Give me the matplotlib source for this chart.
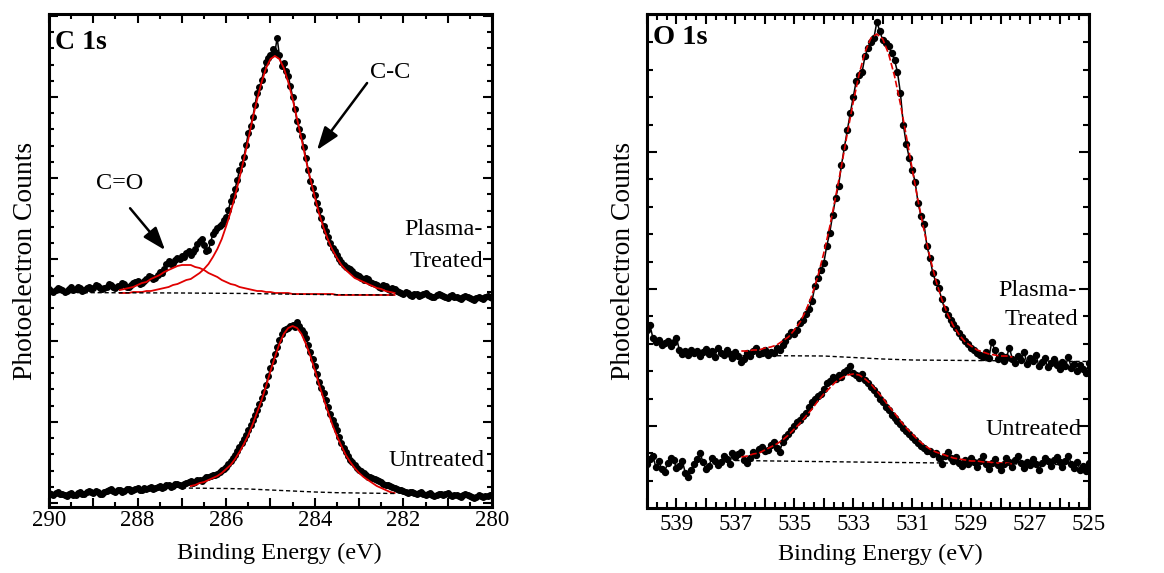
import numpy as np
import matplotlib
matplotlib.use("Agg")
import matplotlib.pyplot as plt
from matplotlib.ticker import MultipleLocator, FuncFormatter

plt.rcParams['font.family'] = ['Liberation Serif', 'DejaVu Serif']

# ---------------- C 1s spectra (binding energy grid 290 -> 280 eV, 0.05 eV) ----------------
c1s_be_start, c1s_be_stop, c1s_n = 290.0, 280.0, 201
c1s_plasma = [
    218, 216, 215, 217, 219, 218, 217, 215, 216, 218, 220, 217, 218, 220, 219, 216, 217, 219, 220, 218,
    219, 222, 221, 219, 218, 219, 220, 223, 222, 220, 219, 221, 221, 224, 223, 220, 220, 222, 224, 225,
    226, 223, 224, 226, 228, 231, 230, 228, 229, 232, 235, 234, 238, 243, 246, 243, 244, 247, 249, 248,
    251, 250, 254, 256, 252, 255, 258, 263, 266, 268, 262, 256, 257, 265, 273, 276, 279, 281, 283, 287,
    290, 297, 306, 311, 318, 327, 337, 343, 350, 362, 374, 381, 390, 402, 414, 420, 427, 437, 445, 449,
    452, 458, 455, 469, 452, 441, 444, 436, 431, 421, 410, 398, 386, 378, 371, 360, 349, 337, 326, 319,
    312, 304, 297, 289, 281, 276, 270, 264, 259, 256, 252, 248, 245, 242, 240, 239, 238, 236, 233, 232,
    231, 229, 227, 229, 228, 225, 224, 223, 222, 220, 219, 222, 221, 218, 217, 219, 218, 216, 215, 214,
    213, 215, 214, 212, 211, 213, 213, 211, 212, 213, 214, 212, 211, 210, 210, 212, 213, 212, 211, 210,
    209, 211, 212, 210, 210, 209, 208, 210, 211, 210, 209, 208, 207, 209, 210, 209, 208, 210, 211, 210,
    209]
c1s_untreated = [
    14, 13, 12, 14, 15, 13, 13, 12, 11, 13, 14, 12, 12, 14, 15, 13, 13, 15, 16, 15,
    14, 16, 15, 13, 13, 15, 16, 17, 18, 16, 15, 17, 17, 15, 16, 18, 18, 16, 17, 18,
    19, 17, 17, 19, 18, 19, 20, 18, 19, 20, 21, 19, 20, 22, 22, 20, 21, 23, 23, 22,
    21, 23, 24, 25, 26, 24, 25, 27, 27, 26, 28, 30, 30, 31, 32, 32, 33, 35, 37, 38,
    40, 43, 46, 49, 52, 56, 60, 64, 68, 72, 77, 82, 87, 92, 97, 103, 109, 115, 122, 131,
    139, 146, 153, 160, 167, 173, 177, 178, 179, 181, 182, 180, 185, 181, 177, 174, 169, 162, 155, 148,
    141, 133, 125, 119, 114, 107, 100, 93, 87, 82, 77, 70, 64, 59, 55, 51, 47, 45, 42, 39,
    37, 36, 34, 32, 30, 30, 29, 28, 27, 26, 25, 23, 22, 22, 21, 20, 19, 18, 17, 17,
    16, 15, 14, 15, 15, 14, 13, 14, 15, 13, 12, 13, 14, 12, 11, 12, 13, 13, 12, 13,
    14, 12, 11, 12, 12, 11, 10, 12, 13, 12, 11, 10, 9, 10, 12, 11, 10, 11, 11, 12,
    12]

# fitted components, plasma-treated (288.4 -> 282.2 eV, 0.1 eV)
c1s_fit_start, c1s_fit_stop, c1s_fit_n = 288.4, 282.2, 63
c1s_cc_fit = [
    214, 214, 214, 215, 215,
    215, 216, 216, 217, 218, 219, 220, 222, 223, 225,
    227, 228, 231, 234, 238, 243, 250, 258, 268, 281,
    295, 311, 329, 348, 368, 389, 408, 425, 439, 448,
    451, 448, 439, 425, 408, 388, 368, 347, 328, 310,
    293, 279, 267, 257, 249, 242, 237, 233, 229, 227,
    225, 223, 221, 219, 218, 216, 215, 214]
c1s_co_fit = [
    217, 218, 219, 220, 222,
    224, 225, 228, 230, 232, 235, 237, 239, 241, 242,
    242, 242, 240, 239, 237, 234, 232, 230, 227, 225,
    223, 222, 220, 219, 218, 217, 216, 216, 215, 215,
    214, 214, 214, 214, 213, 213, 213, 213, 213, 213,
    213, 213, 213, 213, 212, 212, 212, 212, 212, 212,
    212, 212, 212, 212, 212, 212, 212, 212]
# fitted peak, untreated (286.8 -> 282.2 eV, 0.1 eV)
c1s_ufit_start, c1s_ufit_stop, c1s_ufit_n = 286.8, 282.2, 47
c1s_untr_fit = [
    21, 22, 24, 25, 27, 29, 31, 34, 38,
    42, 48, 55, 63, 72, 83, 95, 107, 121, 136,
    150, 163, 173, 179, 181, 179, 173, 163, 151, 137,
    122, 108, 95, 82, 71, 61, 52, 45, 39, 34,
    30, 27, 24, 21, 19, 17, 15, 14]
# backgrounds
c1s_plasma_bg_be = [290.0, 287.0, 285.5, 284.5, 283.5, 282.2]
c1s_plasma_bg = [214.5, 214.0, 213.5, 212.8, 212.3, 212.0]
c1s_untr_bg_be = [287.0, 286.0, 285.5, 285.0, 284.5, 284.0, 283.5, 283.0, 282.2]
c1s_untr_bg = [19.0, 18.5, 18.0, 17.0, 16.0, 15.0, 14.3, 14.0, 13.5]

# ---------------- O 1s spectra (540 -> 525 eV, 0.1 eV) ----------------
o1s_be_start, o1s_be_stop, o1s_n = 540.0, 525.0, 151
o1s_plasma = [
    178, 183, 170, 166, 168, 163, 165, 167, 162, 166,
    170, 158, 154, 157, 153, 158, 155, 157, 152, 156,
    159, 154, 157, 151, 160, 155, 153, 158, 154, 150,
    156, 152, 146, 149, 155, 152, 157, 160, 154, 155,
    158, 153, 156, 155, 160, 158,
    163, 167, 172, 176, 174,
    178, 185, 188, 194, 199, 207, 222, 230, 238, 245,
    262, 275, 293, 310, 322, 343, 361, 378, 395, 411,
    427, 433, 436, 452, 460, 466, 470, 486, 477, 468,
    465, 462, 455, 448, 436, 415, 383, 364, 350, 338,
    326, 305, 292, 284, 262, 250, 235, 226, 220, 209,
    199, 193, 188, 184, 180, 175, 171, 167, 164, 160,
    158, 155, 153, 151, 156,
    150, 166, 158, 149, 153, 147, 151, 160, 149, 145,
    152, 148, 156, 144, 150, 147, 153, 142, 146, 150,
    141, 145, 149, 143, 139, 146, 142, 151, 140, 144,
    137, 143, 139, 135, 145]
o1s_untreated = [
    44, 49, 52, 41, 47, 39, 36, 45, 50, 48,
    40, 42, 47, 35, 31, 38, 44, 49, 55, 46,
    39, 42, 50, 47, 43, 46, 52, 49, 44, 55,
    51, 54, 56, 48, 45, 50, 56, 53, 59, 61,
    57, 58, 63, 66, 60, 56, 66, 71, 74, 78,
    82, 86, 88, 92, 95, 101, 106, 109, 112, 114,
    119, 125, 127, 131, 129, 133, 131, 136, 138, 142,
    135, 133, 130, 134, 128, 125, 121, 118, 114, 109,
    106, 101, 98, 93, 90, 87, 84, 80, 77, 74,
    71, 68, 65, 62, 60, 57, 57, 54, 55, 50,
    44, 52, 56, 50, 47, 51, 45, 42, 48, 44,
    50, 46, 41, 47, 52, 44, 39, 45, 49, 43,
    38, 44, 50, 46, 41, 48, 52, 45, 40, 46,
    43, 49, 44, 38, 45, 50, 47, 42, 48, 51,
    46, 41, 47, 52, 44, 40, 46, 38, 42, 37,
    45]
# fits (536.8 -> 527.6 eV, 0.2 eV)
o1s_fit_start, o1s_fit_stop, o1s_fit_n = 536.8, 527.6, 47
o1s_plasma_fit = [
    157, 157, 158, 158, 160, 161, 163, 167, 171, 178,
    186, 198, 213, 232, 255, 281, 311, 342, 375, 406,
    434, 456, 470, 474, 469, 454, 432, 404, 372, 339,
    307, 278, 251, 228, 209, 194, 182, 173, 166, 162,
    158, 156, 154, 153, 152, 152, 151]
o1s_untr_fit = [
    51, 52, 54, 55, 58, 61, 64, 68, 73, 79,
    85, 92, 99, 107, 114, 120, 126, 130, 133, 134,
    133, 129, 124, 117, 110, 102, 95, 87, 80, 74,
    68, 63, 59, 56, 54, 52, 50, 49, 48, 47,
    47, 46, 46, 45, 45, 45, 44]
o1s_plasma_bg_be = [537.0, 534.0, 533.0, 532.0, 531.0, 529.0, 525.0]
o1s_plasma_bg = [152.5, 152.0, 150.5, 149.0, 148.0, 147.5, 146.5]
o1s_untr_bg_be = [537.0, 533.0, 529.0, 525.0]
o1s_untr_bg = [47.5, 46.0, 44.7, 43.0]

# ---------------- figure ----------------
W, H = 1164, 573
fig = plt.figure(figsize=(W / 100, H / 100), dpi=100)
axL = fig.add_axes([49 / W, (H - 507) / H, 443 / W, 493 / H])
axR = fig.add_axes([647 / W, (H - 508) / H, 442 / W, 494 / H])

RED = '#e00000'
data_kw = dict(color='black', lw=1.1, marker='o', ms=4.0, mfc='black', mec='black', zorder=2)
bg_kw = dict(color='black', lw=1.0, ls=(0, (3, 2)), zorder=4)

# C 1s
be = np.linspace(c1s_be_start, c1s_be_stop, c1s_n)
be_fit = np.linspace(c1s_fit_start, c1s_fit_stop, c1s_fit_n)
be_ufit = np.linspace(c1s_ufit_start, c1s_ufit_stop, c1s_ufit_n)
axL.plot(be, c1s_plasma, **data_kw)
axL.plot(be, c1s_untreated, **data_kw)
axL.plot(be_fit, c1s_cc_fit, color=RED, lw=1.3, zorder=3)
axL.plot(be_fit, c1s_co_fit, color=RED, lw=1.3, zorder=3)
axL.plot(be_ufit, c1s_untr_fit, color=RED, lw=1.3, zorder=3)
axL.plot(c1s_plasma_bg_be, c1s_plasma_bg, **bg_kw)
axL.plot(c1s_untr_bg_be, c1s_untr_bg, **bg_kw)
axL.set_xlim(290, 280)
axL.set_ylim(0, 493)

# O 1s
beo = np.linspace(o1s_be_start, o1s_be_stop, o1s_n)
beo_fit = np.linspace(o1s_fit_start, o1s_fit_stop, o1s_fit_n)
axR.plot(beo, o1s_plasma, **dict(data_kw, ms=4.3))
axR.plot(beo, o1s_untreated, **dict(data_kw, ms=4.3))
axR.plot(beo_fit, o1s_plasma_fit, color=RED, lw=1.2, ls=(0, (4, 1.5)), zorder=3)
axR.plot(beo_fit, o1s_untr_fit, color=RED, lw=1.2, ls=(0, (4, 1.5)), zorder=3)
axR.plot(o1s_plasma_bg_be, o1s_plasma_bg, **bg_kw)
axR.plot(o1s_untr_bg_be, o1s_untr_bg, **bg_kw)
axR.set_xlim(540, 525)
axR.set_ylim(0, 494)

# axes styling
for ax in (axL, axR):
    for sp in ax.spines.values():
        sp.set_linewidth(2.2)
    ax.tick_params(which='both', direction='in', top=True, right=True,
                   labelleft=False, width=1.5, labelsize=16.5)
    ax.xaxis.set_major_locator(MultipleLocator(1))

axL.xaxis.set_minor_locator(MultipleLocator(0.5))
axL.xaxis.set_major_formatter(FuncFormatter(lambda v, p: f"{v:.0f}" if round(v) % 2 == 0 else ""))
axL.yaxis.set_major_locator(MultipleLocator(81.2, offset=4))
axL.yaxis.set_minor_locator(MultipleLocator(16.24, offset=4))
axL.tick_params(which='major', length=6.5, pad=2)
axL.tick_params(which='minor', length=3.6)

axR.xaxis.set_minor_locator(MultipleLocator(1 / 3))
axR.xaxis.set_major_formatter(FuncFormatter(lambda v, p: f"{v:.0f}" if round(v) % 2 == 1 else ""))
axR.yaxis.set_major_locator(MultipleLocator(137, offset=82))
axR.yaxis.set_minor_locator(MultipleLocator(27.4, offset=82))
axR.tick_params(which='major', length=7.5, pad=4)
axR.tick_params(which='minor', length=4.3)

for ax, xl in ((axL, 0.519), (axR, 0.527)):
    ax.set_xlabel('Binding Energy (eV)', fontsize=17.5)
    ax.xaxis.set_label_coords(xl, -0.072)
    ax.set_ylabel('Photoelectron Counts', fontsize=19.8)
    ax.yaxis.set_label_coords(-0.025, 0.5)

# text annotations
axL.text(0.0135, 0.943, 'C 1s', fontsize=20, fontweight='bold', ha='left', va='center', transform=axL.transAxes)
axR.text(0.0136, 0.953, 'O 1s', fontsize=20.5, fontweight='bold', ha='left', va='center', transform=axR.transAxes)

axL.text(0.770, 0.882, 'C-C', fontsize=17.5, ha='center', va='center', transform=axL.transAxes)
axL.text(0.160, 0.657, 'C=O', fontsize=17.5, ha='center', va='center', transform=axL.transAxes)
arrow = dict(arrowstyle='-|>,head_length=0.7,head_width=0.25', color='black', lw=1.8,
             mutation_scale=20, shrinkA=0, shrinkB=0)
axL.annotate('', xy=(0.605, 0.724), xytext=(0.718, 0.860), xycoords='axes fraction',
             textcoords='axes fraction', arrowprops=arrow)
axL.annotate('', xy=(0.262, 0.521), xytext=(0.183, 0.606), xycoords='axes fraction',
             textcoords='axes fraction', arrowprops=arrow)

axL.text(0.980, 0.562, 'Plasma-', fontsize=17.5, ha='right', va='center', transform=axL.transAxes)
axL.text(0.980, 0.497, 'Treated', fontsize=17.5, ha='right', va='center', transform=axL.transAxes)
axL.text(0.984, 0.095, 'Untreated', fontsize=17.5, ha='right', va='center', transform=axL.transAxes)

axR.text(0.973, 0.441, 'Plasma-', fontsize=17.5, ha='right', va='center', transform=axR.transAxes)
axR.text(0.975, 0.381, 'Treated', fontsize=17.5, ha='right', va='center', transform=axR.transAxes)
axR.text(0.984, 0.158, 'Untreated', fontsize=17.5, ha='right', va='center', transform=axR.transAxes)

fig.savefig('out.png', dpi=100)
